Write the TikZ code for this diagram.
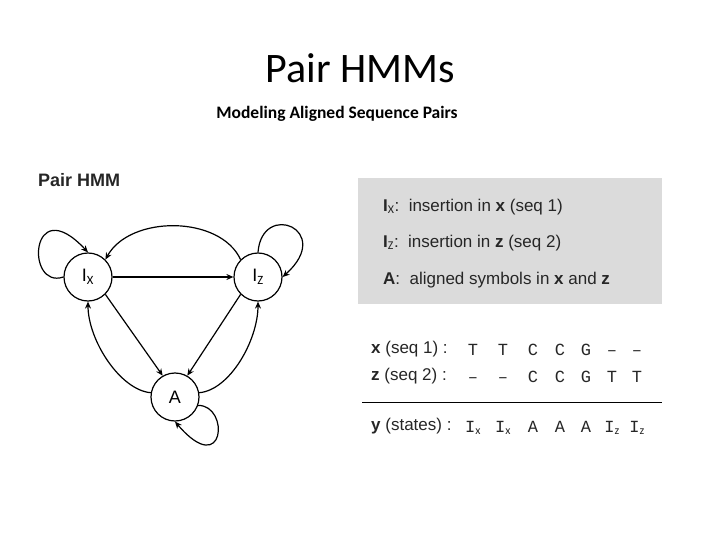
\documentclass[tikz,border=0pt]{standalone}
\usepackage{fontspec}
\setmainfont{Carlito}
\newfontfamily\arial{Liberation Sans}
\newfontfamily\cour{Liberation Mono}
\usetikzlibrary{arrows.meta}
\begin{document}
\begin{tikzpicture}[x=1pt,y=-1pt,
  st/.style={circle,draw,line width=1.2pt,minimum size=48pt,inner sep=0pt,font=\arial\fontsize{18}{18}\selectfont},
  ed/.style={line width=1.2pt,-{Stealth[length=7pt,width=6pt]}},
  lab/.style={anchor=west,font=\arial\fontsize{17}{19}\selectfont,inner sep=0pt,text=black!85},
  seq/.style={font=\cour\fontsize{17}{19}\selectfont,inner sep=0pt,text=black!85}]
\useasboundingbox (0,0) rectangle (720,540);
\node (title) at (360,68) {\fontsize{42}{46}\selectfont Pair HMMs};
\node (sub) at (337,114) {\bfseries\fontsize{17.5}{19}\selectfont Modeling Aligned Sequence Pairs};
\node[anchor=west,inner sep=0pt,font=\arial\bfseries\fontsize{18}{20}\selectfont,text=black!85] (ph) at (38,180) {Pair HMM};
\node[st] (ix) at (88,277) {I$_{\mathrm X}$};
\node[st] (iz) at (258,277) {I$_{\mathrm Z}$};
\node[st] (a) at (175,397) {A};
\draw[ed] (ix) -- (iz);
\draw[ed] (iz.135) .. controls (220,215) and (130,215) .. (ix.45);
\draw[ed] (ix.180) .. controls (25,290) and (30,190) .. (ix.90);
\draw[ed] (iz.90) .. controls (262,200) and (335,230) .. (iz.0);
\draw[ed] (ix.-45) -- (a.120);
\draw[ed] (iz.-135) -- (a.60);
\draw[ed] (a.170) .. controls (120,390) and (88,340) .. (ix.-90);
\draw[ed] (a.10) .. controls (230,390) and (258,340) .. (iz.-90);
\draw[ed] (a.-20) .. controls (230,405) and (225,480) .. (a.-90);
\fill[black!14] (358,178) rectangle (662,304);
\node[lab] (l1) at (383,207) {\textbf{I}$_{\mathrm X}$:\ \ insertion in \textbf{x} (seq 1)};
\node[lab] (l2) at (383,243) {\textbf{I}$_{\mathrm Z}$:\ \ insertion in \textbf{z} (seq 2)};
\node[lab] (l3) at (383,280) {\textbf{A}:\ \ aligned symbols in \textbf{x} and \textbf{z}};
\node[lab] (r1) at (371,349) {\textbf{x} (seq 1)\ :};
\node[lab] (r2) at (371,376) {\textbf{z} (seq 2)\ :};
\node[lab] (r3) at (371,426) {\textbf{y} (states) :};
\draw[line width=1pt] (362,402) -- (662,402);
\foreach \x/\p/\q/\s [count=\i] in {473/T/–/I$_{\mathrm x}$,503/T/–/I$_{\mathrm x}$,533/C/C/A,560/C/C/A,586/G/G/A,612/–/T/I$_{\mathrm z}$,637/–/T/I$_{\mathrm z}$}{
  \node[seq,anchor=base] (p\i) at (\x,355) {\p};
  \node[seq,anchor=base] (q\i) at (\x,382) {\q};
  \node[seq,anchor=base] (s\i) at (\x,432) {\s};
}
\end{tikzpicture}
\end{document}
